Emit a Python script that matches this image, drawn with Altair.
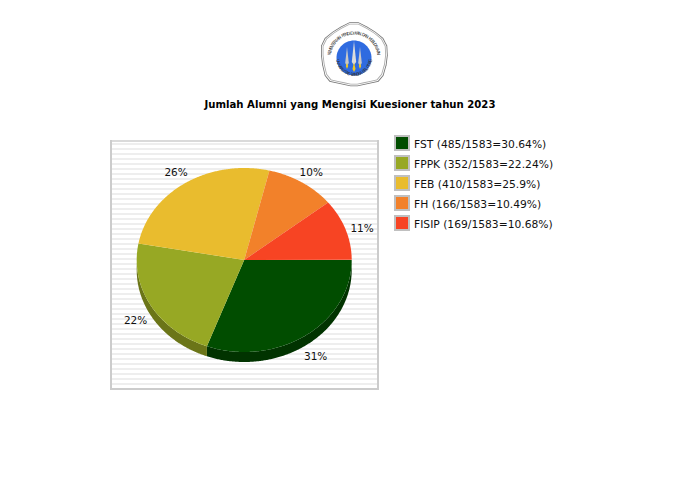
import math
import altair as alt
import pandas as pd

TITLE = "Jumlah Alumni yang Mengisi Kuesioner tahun 2023"
names = ["FST", "FPPK", "FEB", "FH", "FISIP"]
counts = [485, 352, 410, 166, 169]
shares = ["30.64", "22.24", "25.9", "10.49", "10.68"]
pct_labels = ["31%", "22%", "26%", "10%", "11%"]
colors = ["#014d00", "#97a824", "#e9bc2e", "#f2812a", "#f74423"]
side_colors = ["#013300", "#6b7518", "#9c7d1e", "#a1561c", "#a42d17"]
TOTAL = 1583
LOGO_TOP = "KEMENTERIAN PENDIDIKAN DAN KEBUDAYAAN"
LOGO_BOTTOM = "UNIVERSITAS BANGKA BELITUNG"

OX, OY = 8, 8  # page margin
CX, CY, RX, RY, DEPTH = 244.2 - OX, 260 - OY, 107.5, 92, 10
FONT = "DejaVu Sans"


def P(x, y):
    return [x - OX, y - OY]


def feature(coords, fill):
    return {
        "type": "Feature",
        "properties": {"fill": fill},
        "geometry": {"type": "Polygon", "coordinates": [coords + [coords[0]]]},
    }


def ell(a, dy=0):
    r = math.radians(a)
    return [CX + RX * math.cos(r), CY + RY * math.sin(r) + dy]


# Slice geometry, derived from the counts
tops, sides, labels = [], [], []
start = 0.0
for n, c, col, scol, lab in zip(names, counts, colors, side_colors, pct_labels):
    sweep = 360.0 * c / TOTAL
    end = start + sweep
    steps = max(2, int(sweep * 2))
    tops.append(feature([[CX, CY]] + [ell(start + sweep * i / steps) for i in range(steps + 1)], col))
    a0, a1 = start, min(end, 180.0)
    if a1 > a0:
        s = max(2, int((a1 - a0) * 2))
        arc = [a0 + (a1 - a0) * i / s for i in range(s + 1)]
        sides.append(feature([ell(a) for a in arc] + [ell(a, DEPTH) for a in reversed(arc)], scol))
    mid = math.radians(start + sweep / 2)
    labels.append({
        "t": lab,
        "px": CX + 125 * math.cos(mid),
        "py": CY + 110.5 * math.sin(mid) + 6,
    })
    start = end


def shapes(feats, **kw):
    return alt.Chart(alt.Data(values=feats)).mark_geoshape(**kw).encode(
        color=alt.Color("properties.fill:N", scale=None, legend=None)
    ).project(type="identity", scale=1, translate=[0, 0])


def rects(rows, **kw):
    return alt.Chart(pd.DataFrame(rows)).mark_rect(**kw).encode(
        x=alt.X("x:Q", scale=None, axis=None),
        x2="x2:Q",
        y=alt.Y("y:Q", scale=None, axis=None),
        y2="y2:Q",
        color=alt.Color("c:N", scale=None, legend=None),
    )


def texts(rows, **kw):
    return alt.Chart(pd.DataFrame(rows)).mark_text(font=FONT, **kw).encode(
        x=alt.X("px:Q", scale=None, axis=None),
        y=alt.Y("py:Q", scale=None, axis=None),
        text="t:N",
    )


def box(x0, y0, x1, y1, c):
    return {"x": x0 - OX, "x2": x1 - OX, "y": y0 - OY, "y2": y1 - OY, "c": c}


# Plot frame with striped background
frame = [box(110, 140, 379, 390, "#ffffff")]
yy = 143
while yy < 388:
    frame.append(box(112, yy, 377, yy + 2, "#eeeeee"))
    yy += 5
frame += [
    box(110, 140, 379, 142, "#dadada"),
    box(110, 388, 379, 390, "#cccccc"),
    box(110, 140, 112, 390, "#cccccc"),
    box(377, 140, 379, 390, "#cccccc"),
]

# Legend
legend_rows, legend_text = [], []
for i, (n, c, s, col) in enumerate(zip(names, counts, shares, colors)):
    y0 = 135 + i * 20
    legend_rows.append(box(394, y0, 410, y0 + 16, "#c0c0c0"))
    legend_rows.append(box(396, y0 + 2, 408, y0 + 14, col))
    legend_text.append({"t": f"{n} ({c}/{TOTAL}={s}%)", "px": 414 - OX, "py": y0 + 10 - OY})

# Logo
LX, LY = 354, 58


def ring(r, a0, a1, n=60, cx=LX, cy=LY):
    return [P(cx + r * math.cos(math.radians(a0 + (a1 - a0) * i / n)),
              cy + r * math.sin(math.radians(a0 + (a1 - a0) * i / n))) for i in range(n + 1)]


def smooth(pts, rounds=2):
    for _ in range(rounds):
        out = []
        for i, (x0, y0) in enumerate(pts):
            x1, y1 = pts[(i + 1) % len(pts)]
            out.append((0.75 * x0 + 0.25 * x1, 0.75 * y0 + 0.25 * y1))
            out.append((0.25 * x0 + 0.75 * x1, 0.25 * y0 + 0.75 * y1))
        pts = out
    return pts


def shield(k):
    pts = [(354, 20), (372, 29), (387, 41), (388, 60), (382, 81), (368, 84), (354, 87),
           (340, 84), (326, 81), (321, 60), (321, 41), (336, 29)]
    return [P(LX + (x - LX) * k, 53 + (y - 53) * k) for x, y in smooth(pts, 1)]


def spike(x, top, bot, w, c):
    return feature([P(x, top), P(x + w, bot), P(x, bot + 3), P(x - w, bot)], c)


logo = [
    feature(shield(1.0), "#777777"),
    feature(shield(0.975), "#ffffff"),
    feature(shield(0.95), "#aaaaaa"),
    feature(shield(0.925), "#ffffff"),
    feature(ring(17.5, 0, 360), "#2f6be0"),
    spike(347, 47, 63, 1.8, "#c8c8c8"),
    spike(354, 41, 62, 2.2, "#dcdcdc"),
    spike(360, 47, 63, 1.8, "#c8c8c8"),
    spike(347, 63, 66, 1.2, "#f2c81e"),
    spike(360, 63, 66, 1.2, "#f2c81e"),
    spike(354, 62, 69, 1.5, "#f2c81e"),
]

logo_chars = []
n_top = len(LOGO_TOP)
for i, ch in enumerate(LOGO_TOP):
    a = -170 + 160 * i / (n_top - 1)
    r = math.radians(a)
    logo_chars.append({"t": ch, "px": LX - OX + 24.5 * math.cos(r), "py": LY - OY + 24.5 * math.sin(r),
                       "rot": (a + 90) % 360})
n_bot = len(LOGO_BOTTOM)
for i, ch in enumerate(LOGO_BOTTOM):
    a = 170 - 160 * i / (n_bot - 1)
    r = math.radians(a)
    logo_chars.append({"t": ch, "px": LX - OX + 17 * math.cos(r), "py": LY - OY + 17 * math.sin(r),
                       "rot": (a - 90) % 360})

logo_text = alt.Chart(pd.DataFrame(logo_chars)).mark_text(
    font=FONT, fontSize=4.4, color="#333333", baseline="middle", align="center"
).encode(
    x=alt.X("px:Q", scale=None, axis=None),
    y=alt.Y("py:Q", scale=None, axis=None),
    angle=alt.Angle("rot:Q", scale=None),
    text="t:N",
)

title = texts([{"t": TITLE, "px": 350 - OX, "py": 105 - OY}],
              fontSize=10.13, fontWeight="bold", color="#000000", align="center", baseline="middle")

chart = alt.layer(
    rects(frame),
    shapes(sides),
    shapes(tops),
    texts(labels, fontSize=10.5, color="#111111", align="center", baseline="middle"),
    rects(legend_rows),
    texts(legend_text, fontSize=10.72, color="#111111", align="left", baseline="middle"),
    title,
    shapes(logo),
    logo_text,
).properties(
    width=684, height=484, padding=0, autosize=alt.AutoSizeParams(type="none"),
    background="#ffffff",
).configure_view(stroke=None)

chart.save("out.html", embed_options={"renderer": "svg", "actions": False})
